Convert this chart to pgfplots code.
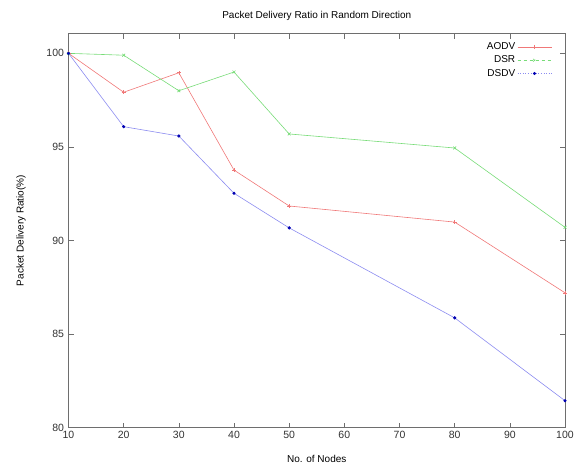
\documentclass[border=0pt]{standalone}
\usepackage{fontspec}
\setmainfont{Liberation Sans}
\usepackage{pgfplots}
\pgfplotsset{compat=1.18}
\definecolor{caodv}{RGB}{240,120,120}
\definecolor{cdsr}{RGB}{120,220,120}
\definecolor{cdsdv}{RGB}{140,140,240}
\definecolor{cframe}{RGB}{110,110,110}
\begin{document}
\begin{tikzpicture}
\useasboundingbox (0,0) rectangle (575pt,472pt);
\begin{axis}[
  at={(68.5pt,44.5pt)}, anchor=south west,
  scale only axis, width=496.5pt, height=394pt,
  xmin=10, xmax=100, ymin=80, ymax=101.06,
  xtick={10,20,...,100}, ytick={80,85,90,95,100},
  tick align=inside, major tick length=5pt,
  axis line style={cframe, line width=0.8pt},
  every tick/.style={cframe, line width=0.6pt},
  font=\fontsize{10}{12}\selectfont,
  tick label style={font=\fontsize{10.5}{12}\selectfont, text=black!80},
  /pgf/number format/assume math mode=true,
  yticklabel style={xshift=-1pt},
  title={Packet Delivery Ratio in Random Direction},
  title style={at={(0.5,1)}, anchor=south, yshift=3pt},
  xlabel={No. of Nodes},
  ylabel={Packet Delivery Ratio(\%)},
  xlabel style={yshift=-10pt},
  ylabel style={yshift=14pt},
  legend style={at={(1,1)}, anchor=north east, xshift=-12pt, yshift=-6pt,
    draw=none, fill=none, font=\fontsize{10}{12}\selectfont,
    row sep=0.8pt, inner sep=1pt},
  legend cell align=right,
  legend plot pos=right,
  legend image code/.code={
    \draw[mark repeat=2,mark phase=2,#1] plot coordinates {(0pt,0pt) (17pt,0pt) (34pt,0pt)};},
  every axis plot/.append style={line width=0.6pt},
]
\addplot[caodv, mark=+, mark size=2pt] coordinates {
  (10,100) (20,97.92) (30,98.96) (40,93.76) (50,91.84) (80,90.98) (100,87.2)};
\addlegendentry{AODV}
\addplot[cdsr, mark=x, mark size=2pt, legend image post style={dashed}] coordinates {
  (10,100) (20,99.9) (30,98.0) (40,99.0) (50,95.69) (80,94.94) (100,90.7)};
\addlegendentry{DSR}
\addplot[cdsdv, mark=*, mark size=1.3pt, mark options={fill=blue!70!black, draw=blue!70!black, solid}, legend image post style={dotted}] coordinates {
  (10,100) (20,96.08) (30,95.58) (40,92.52) (50,90.67) (80,85.86) (100,81.43)};
\addlegendentry{DSDV}
\end{axis}
\end{tikzpicture}
\end{document}
